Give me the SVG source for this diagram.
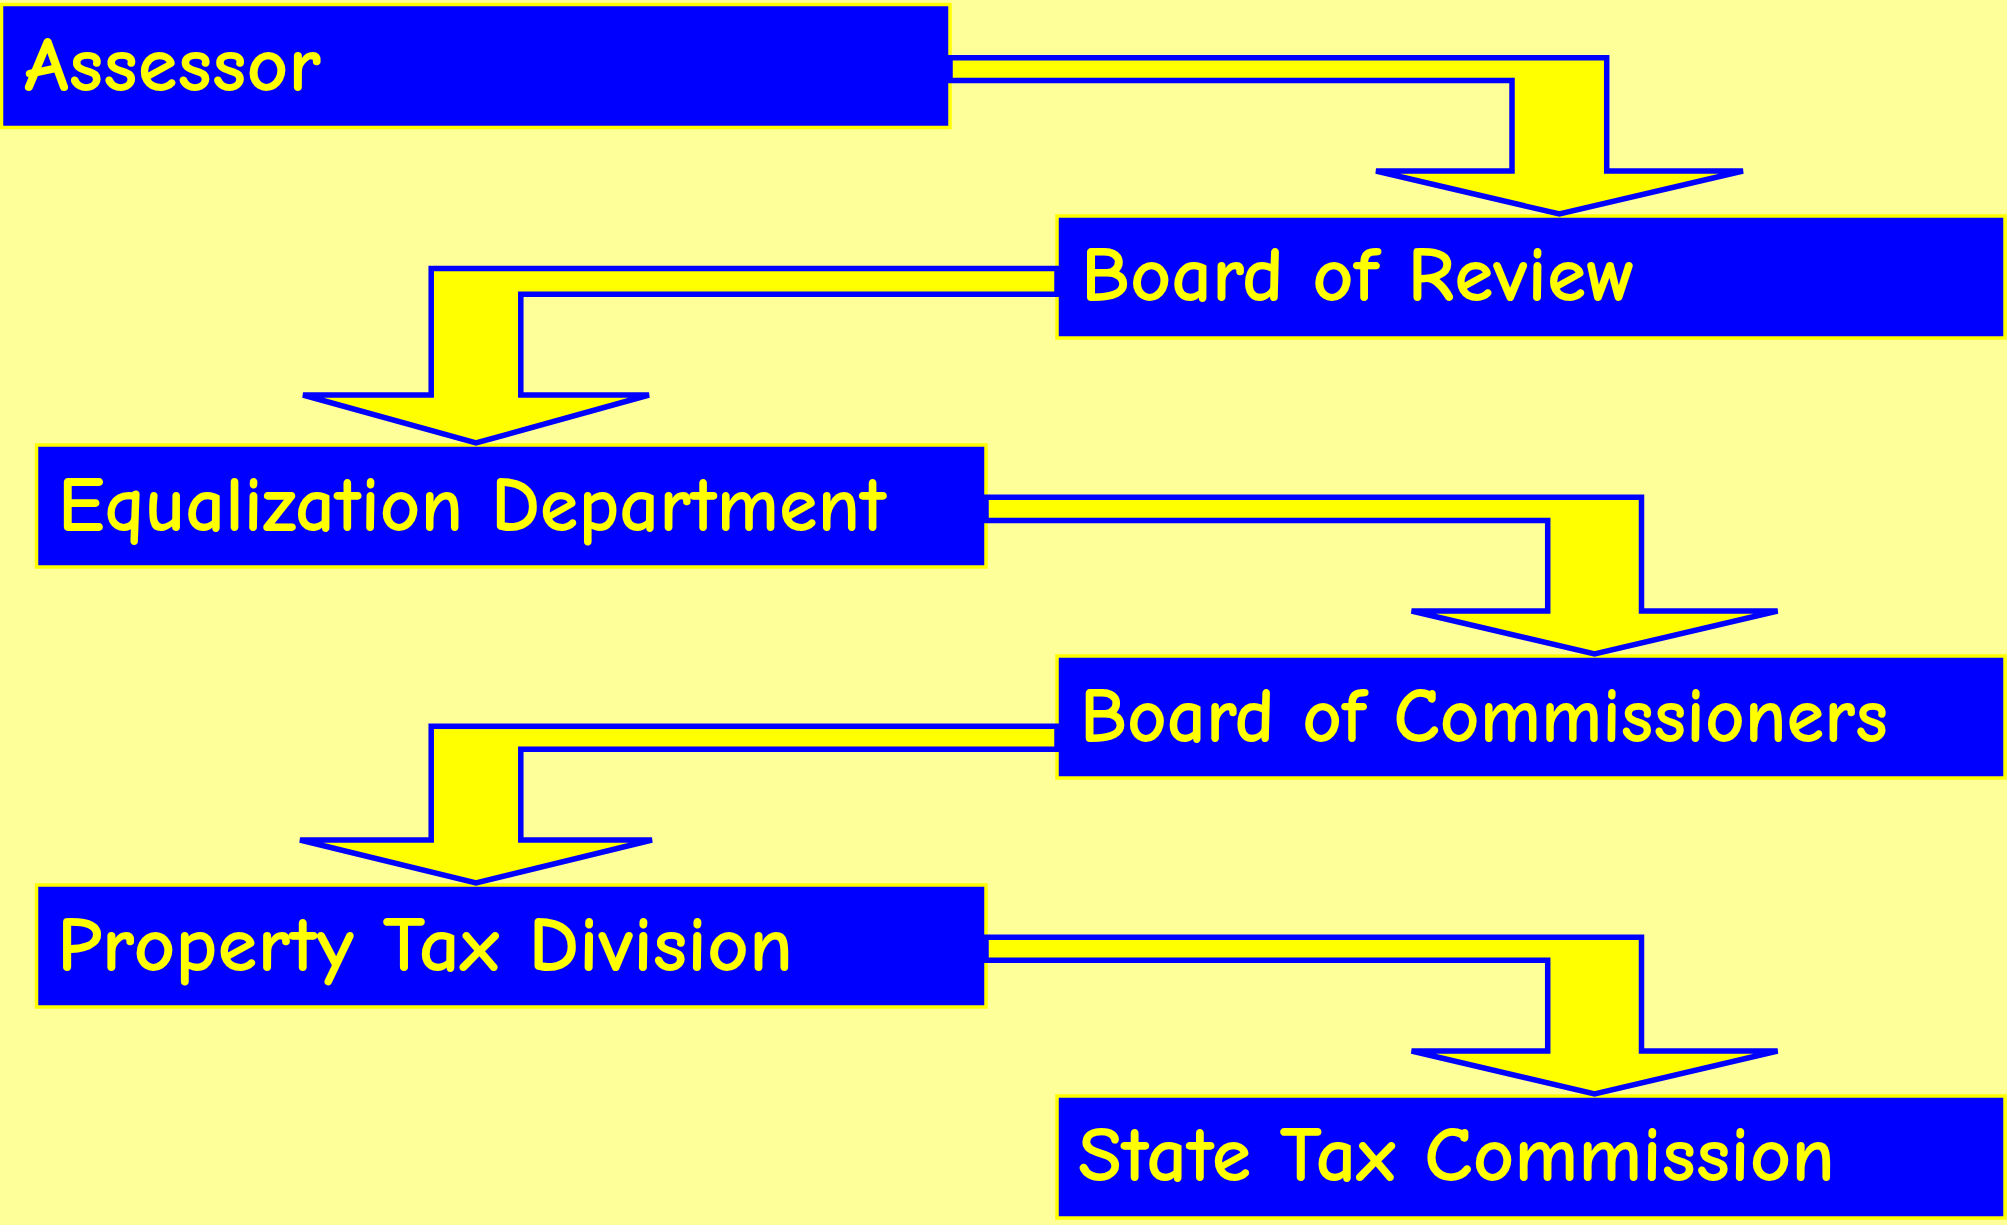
<svg xmlns="http://www.w3.org/2000/svg" width="2007" height="1225" viewBox="0 0 2007 1225">
<style>
.box{fill:#0000FF;stroke:#FFFF00;stroke-width:3.5}
.lbl{fill:#FFFF00;font-family:"Comic Sans MS","Comic Neue","DejaVu Sans",sans-serif;font-weight:bold;font-size:78px}
.arw{fill:#FFFF00;stroke:#0000FF;stroke-width:5.5}
</style>
<rect x="0" y="0" width="2007" height="1225" fill="#FFFF99"/>
<g id="nodes">
<g id="assessor">
<rect class="box" x="1.5" y="4.5" width="948.5" height="123"/>
<text class="lbl" x="24" y="91" textLength="297" lengthAdjust="spacingAndGlyphs">Assessor</text>
</g>
<g id="board-of-review">
<rect class="box" x="1057" y="216" width="948" height="122"/>
<text class="lbl" x="1081" y="301" textLength="555" lengthAdjust="spacingAndGlyphs">Board of Review</text>
</g>
<g id="equalization-department">
<rect class="box" x="36.5" y="445" width="949.5" height="122"/>
<text class="lbl" x="58" y="531" textLength="828" lengthAdjust="spacingAndGlyphs">Equalization Department</text>
</g>
<g id="board-of-commissioners">
<rect class="box" x="1057" y="656" width="948" height="122"/>
<text class="lbl" x="1080" y="742" textLength="808" lengthAdjust="spacingAndGlyphs">Board of Commissioners</text>
</g>
<g id="property-tax-division">
<rect class="box" x="36.5" y="885" width="949.5" height="122"/>
<text class="lbl" x="57" y="971" textLength="736" lengthAdjust="spacingAndGlyphs">Property Tax Division</text>
</g>
<g id="state-tax-commission">
<rect class="box" x="1057" y="1096" width="948" height="122"/>
<text class="lbl" x="1078" y="1181" textLength="757" lengthAdjust="spacingAndGlyphs">State Tax Commission</text>
</g>
</g>
<g id="connectors">
<polygon class="arw" points="950,57.8 1606.7,57.8 1606.7,171 1743,171 1559.4,214 1376,171 1512,171 1512,80.5 950,80.5"/>
<polygon class="arw" points="1057,268.5 431.2,268.5 431.2,395 303,395 476,443 649,395 520.8,395 520.8,294.2 1057,294.2"/>
<polygon class="arw" points="986,497.3 1641.5,497.3 1641.5,611 1777.6,611 1594.6,654 1411.6,611 1547.7,611 1547.7,520.5 986,520.5"/>
<polygon class="arw" points="1057,726.2 431.2,726.2 431.2,840 300,840 476,883 652,840 520.8,840 520.8,749.2 1057,749.2"/>
<polygon class="arw" points="986,937.3 1641.5,937.3 1641.5,1051 1777.6,1051 1594.6,1094 1411.6,1051 1547.7,1051 1547.7,960.3 986,960.3"/>
</g>
</svg>
